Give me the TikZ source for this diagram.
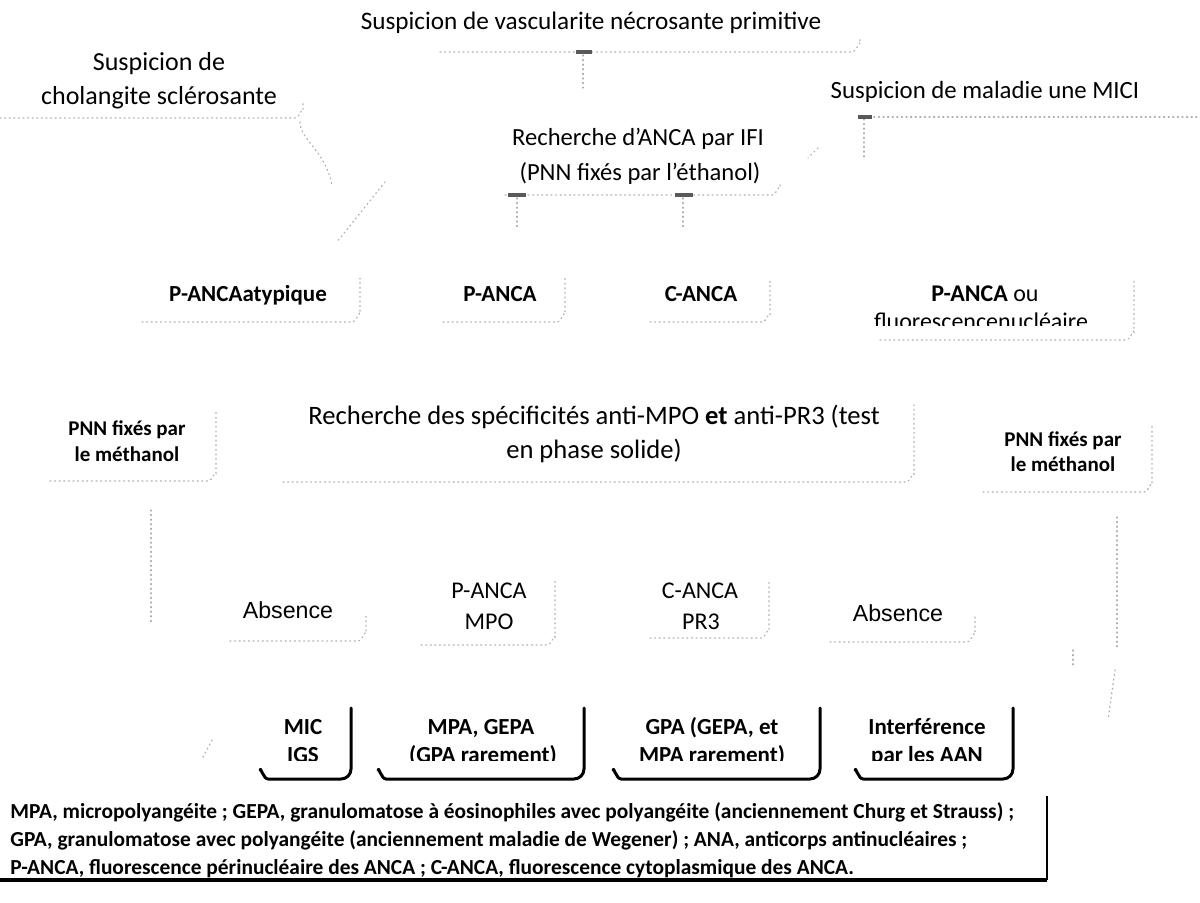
\documentclass[tikz,border=0pt]{standalone}
\usepackage{fontspec}
\setmainfont{Carlito}
\newfontfamily\arialf{Liberation Sans}
\newcommand\faintedge[4]{\draw[faint] (#1,#4) -- (#2-8,#4) to[out=0,in=90] (#2,#4-8) -- (#2,#3);}
\newcommand\outlinebox[3]{\draw[outbox] (#1,770) to[out=90,in=180] (#1+8,779) -- (#2-10,779) to[out=0,in=-90] (#2,769) -- (#2,#3);}
\begin{document}
\begin{tikzpicture}[x=0.5pt,y=-0.5pt,
  every node/.style={inner sep=0pt, anchor=base},
  txt/.style={align=center, font=\fontsize{12}{17.5}\selectfont},
  txtb/.style={align=center, font=\bfseries\fontsize{11.5}{14}\selectfont},
  txts/.style={align=center, font=\bfseries\fontsize{10.5}{13}\selectfont},
  txta/.style={align=center, font=\arialf\fontsize{11.6}{15}\selectfont},
  faint/.style={draw=black!32, line width=0.6pt, line cap=round, dash pattern=on 0.5pt off 1.8pt},
  blob/.style={draw=black!65, line width=1.6pt},
  outbox/.style={draw=black, line width=1.5pt, line cap=round, line join=round},
  legend/.style={align=left, anchor=base west, font=\bfseries\fontsize{10.7}{14}\selectfont}
]
\useasboundingbox (0,0) rectangle (1200,903);

% ---------- texts (positions are baselines) ----------
\node[txt, font=\fontsize{12.6}{17}\selectfont] (vasc) at (591,30) {Suspicion de vascularite nécrosante primitive};
\node[txt, font=\fontsize{13}{17}\selectfont] (chol1) at (159,71) {Suspicion de};
\node[txt, font=\fontsize{13}{17}\selectfont] (chol2) at (159,105) {cholangite sclérosante};
\node[txt, font=\fontsize{12.4}{17}\selectfont] (mici) at (985,99) {Suspicion de maladie une MICI};
\node[txt, font=\fontsize{12.3}{17}\selectfont] (ifi1) at (638,146) {Recherche d’ANCA par IFI};
\node[txt, font=\fontsize{12.3}{17}\selectfont] (ifi2) at (640,181) {(PNN fixés par l’éthanol)};

\node[txtb] (atyp) at (248,302) {P-ANCAatypique};
\node[txtb] (panca) at (500,302) {P-ANCA};
\node[txtb] (canca) at (701,302) {C-ANCA};
\begin{scope}
\clip (860,270) rectangle (1200,326);
\node[txt] (pou1) at (985,302) {\textbf{P-ANCA} ou};
\node[txt] (pou2) at (981,330) {fluorescencenucléaire};
\end{scope}

\node[txts] (pnnl1) at (127,436) {PNN fixés par};
\node[txts] (pnnl2) at (127,462) {le méthanol};
\node[txt, font=\fontsize{13.3}{18}\selectfont] (spec1) at (594,425) {Recherche des spécificités anti-MPO \textbf{et} anti-PR3 (test};
\node[txt, font=\fontsize{13.3}{18}\selectfont] (spec2) at (594,459) {en phase solide)};
\node[txts] (pnnr1) at (1063,447) {PNN fixés par};
\node[txts] (pnnr2) at (1063,472) {le méthanol};

\node[txta] (abs1) at (288,618) {Absence};
\begin{scope}
\clip (380,560) rectangle (800,630);
\node[txt] (mpo1) at (489,598) {P-ANCA};
\node[txt] (mpo2) at (489,629) {MPO};
\node[txt] (pr31) at (700,598) {C-ANCA};
\node[txt] (pr32) at (701,629) {PR3};
\end{scope}
\node[txta] (abs2) at (898,621) {Absence};

\begin{scope}
\clip (240,690) rectangle (1020,760);
\node[txtb] (mic1) at (303,734) {MIC};
\node[txtb] (mic2) at (303,762) {IGS};
\node[txtb] (mpa1) at (481,734) {MPA, GEPA};
\node[txtb] (mpa2) at (483,762) {(GPA rarement)};
\node[txtb] (gpa1) at (712,734) {\textbf{GPA} (GEPA, et};
\node[txtb] (gpa2) at (712,762) {MPA rarement)};
\node[txtb] (aan1) at (927,734) {Interférence};
\node[txtb] (aan2) at (927,762) {par les AAN};
\end{scope}

% ---------- faint box edges (scan residue) ----------
\faintedge{440}{860}{38}{52}
\faintedge{0}{303}{102}{118}
\draw[faint] (860,117) -- (1200,117);
\faintedge{505}{780}{184}{195}
\faintedge{142}{360}{278}{322}
\faintedge{443}{565}{278}{322}
\faintedge{650}{770}{278}{322}
\faintedge{880}{1134}{278}{340}
\faintedge{50}{216}{410}{481}
\faintedge{283}{914}{405}{482}
\faintedge{983}{1152}{425}{492}
\faintedge{230}{366}{615}{641}
\faintedge{421}{555}{580}{645}
\faintedge{650}{769}{580}{638}
\faintedge{830}{975}{615}{642}

% ---------- faint connectors ----------
\coordinate (c1) at (583,55);
\draw[faint] (c1) -- (583,88);
\draw[blob] (576,52) -- (592,52);
\coordinate (c2) at (864,119);
\draw[faint] (c2) -- (864,160);
\draw[faint] (818,148) -- (808,158);
\draw[blob] (858,117) -- (872,117);
\coordinate (c3) at (300,122);
\draw[faint] (c3) .. controls (300,140) and (325,150) .. (332,185);
\draw[faint] (385,182) -- (337,242);
\coordinate (c4) at (517,198);
\draw[faint] (c4) -- (517,230);
\draw[blob] (508,195) -- (526,195);
\coordinate (c5) at (683,198);
\draw[faint] (c5) -- (683,230);
\draw[blob] (675,195) -- (693,195);
\draw[faint] (151,510) -- (151,623);
\draw[faint] (1117,517) -- (1117,650);
\draw[faint] (1073,650) -- (1073,667);
\draw[faint] (1115,670) -- (1108,720);
\draw[faint] (212,740) -- (203,757);

% ---------- bottom boxes ----------
\outlinebox{260}{351}{708}
\outlinebox{378}{584}{708}
\outlinebox{613}{820}{708}
\outlinebox{855}{1013}{708}

% ---------- legend ----------
\node[legend] (l1) at (10,818) {MPA, micropolyangéite ; GEPA, granulomatose à éosinophiles avec polyangéite (anciennement Churg et Strauss) ;};
\node[legend] (l2) at (10,846) {GPA, granulomatose avec polyangéite (anciennement maladie de Wegener) ; ANA, anticorps antinucléaires ;};
\node[legend] (l3) at (10,874) {P-ANCA, fluorescence périnucléaire des ANCA ; C-ANCA, fluorescence cytoplasmique des ANCA.};
\coordinate (lg1) at (1047,796);
\coordinate (lg2) at (1047,880);
\coordinate (lg3) at (0,880);
\draw[line width=1pt] (lg1) -- (lg2);
\draw[line width=1.8pt] (lg3) -- (lg2);
\end{tikzpicture}
\end{document}
